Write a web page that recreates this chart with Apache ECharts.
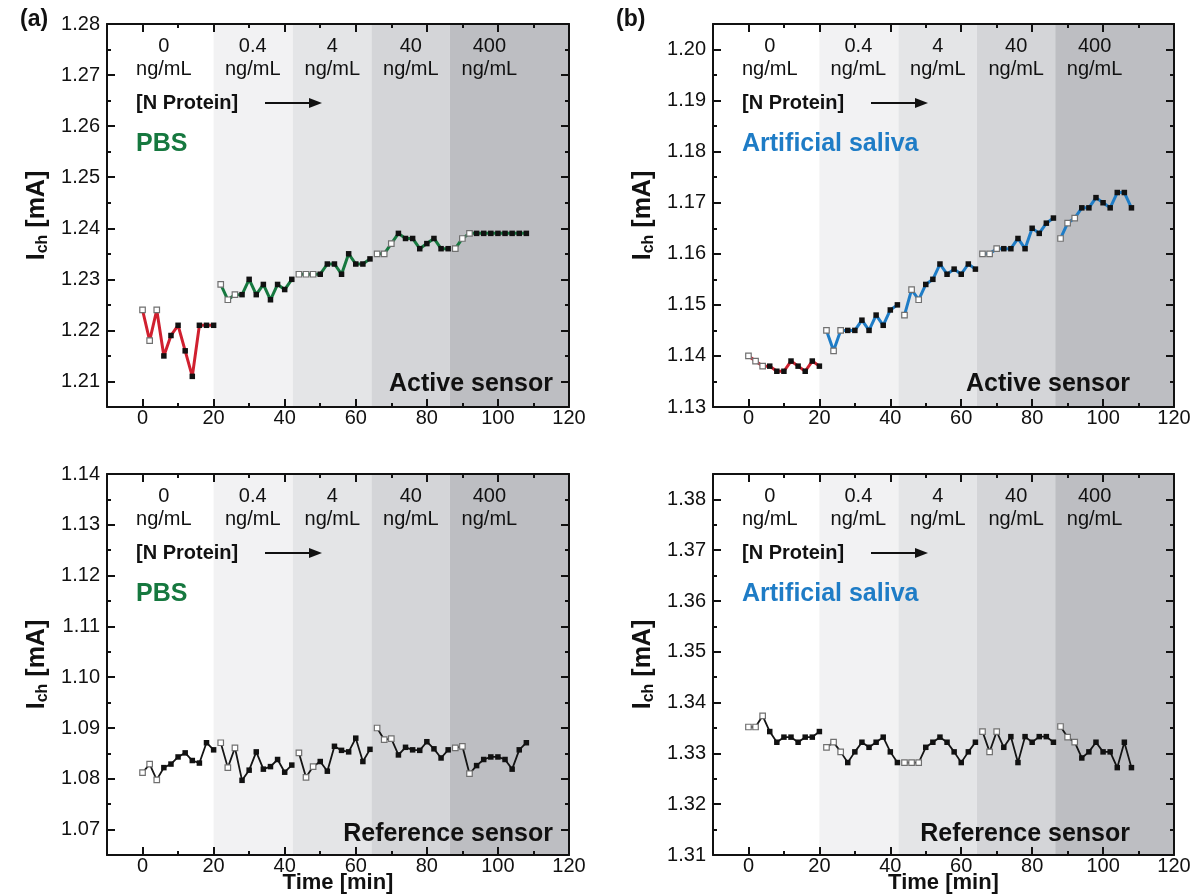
<!DOCTYPE html>
<html>
<head>
<meta charset="utf-8">
<script src="https://cdn.jsdelivr.net/npm/echarts@6/dist/echarts.min.js"></script>
<style>
  html, body { margin: 0; padding: 0; background: #fff; }
  #chart { width: 1202px; height: 894px; }
</style>
</head>
<body>
<div id="chart"></div>
<script>
// time points [min] of each concentration step
var tStep0 = [0, 2, 4, 6, 8, 10, 12, 14, 16, 18, 20];
var tStep1 = [22, 24, 26, 28, 30, 32, 34, 36, 38, 40, 42];
var tStep2 = [44, 46, 48, 50, 52, 54, 56, 58, 60, 62, 64];
var tStep3 = [66, 68, 70, 72, 74, 76, 78, 80, 82, 84, 86];
var tStep4 = [88, 90, 92, 94, 96, 98, 100, 102, 104, 106, 108];

// concentration labels and where the shaded steps start / end
var concLabels = ['0', '0.4', '4', '40', '400'];
var concLabelTime = [6, 31, 53.4, 75.5, 97.6];
var stepEdges = [20, 42.3, 64.4, 86.5, 120];

// (a) active sensor in PBS, I_ch [mA]
var actPbs0 = [1.224, 1.218, 1.224, 1.215, 1.219, 1.221, 1.216, 1.211, 1.221, 1.221, 1.221];
var actPbs1 = [1.229, 1.226, 1.227, 1.227, 1.230, 1.227, 1.229, 1.226, 1.229, 1.228, 1.230];
var actPbs2 = [1.231, 1.231, 1.231, 1.231, 1.233, 1.233, 1.231, 1.235, 1.233, 1.233, 1.234];
var actPbs3 = [1.235, 1.235, 1.237, 1.239, 1.238, 1.238, 1.236, 1.237, 1.238, 1.236, 1.236];
var actPbs4 = [1.236, 1.238, 1.239, 1.239, 1.239, 1.239, 1.239, 1.239, 1.239, 1.239, 1.239];

// (b) active sensor in artificial saliva
var actSal0 = [1.140, 1.139, 1.138, 1.138, 1.137, 1.137, 1.139, 1.138, 1.137, 1.139, 1.138];
var actSal1 = [1.145, 1.141, 1.145, 1.145, 1.145, 1.147, 1.145, 1.148, 1.146, 1.149, 1.150];
var actSal2 = [1.148, 1.153, 1.151, 1.154, 1.155, 1.158, 1.156, 1.157, 1.156, 1.158, 1.157];
var actSal3 = [1.160, 1.160, 1.161, 1.161, 1.161, 1.163, 1.161, 1.165, 1.164, 1.166, 1.167];
var actSal4 = [1.163, 1.166, 1.167, 1.169, 1.169, 1.171, 1.170, 1.169, 1.172, 1.172, 1.169];

// (a) reference sensor in PBS
var refPbs0 = [1.0812, 1.0829, 1.0798, 1.0822, 1.0829, 1.0843, 1.0851, 1.0836, 1.0831, 1.0871, 1.0857];
var refPbs1 = [1.0871, 1.0822, 1.0861, 1.0797, 1.0817, 1.0853, 1.0819, 1.0824, 1.0838, 1.0813, 1.0827];
var refPbs2 = [1.0851, 1.0803, 1.0824, 1.0834, 1.0815, 1.0864, 1.0856, 1.0853, 1.0880, 1.0834, 1.0858];
var refPbs3 = [1.0900, 1.0877, 1.0879, 1.0847, 1.0862, 1.0857, 1.0856, 1.0873, 1.0859, 1.0841, 1.0857];
var refPbs4 = [1.0861, 1.0864, 1.0810, 1.0826, 1.0838, 1.0843, 1.0843, 1.0838, 1.0819, 1.0857, 1.0871];

// (b) reference sensor in artificial saliva
var refSal0 = [1.3352, 1.3352, 1.3374, 1.3343, 1.3322, 1.3332, 1.3332, 1.3322, 1.3332, 1.3332, 1.3343];
var refSal1 = [1.3312, 1.3322, 1.3303, 1.3282, 1.3303, 1.3322, 1.3312, 1.3322, 1.3332, 1.3303, 1.3282];
var refSal2 = [1.3282, 1.3282, 1.3282, 1.3312, 1.3322, 1.3332, 1.3322, 1.3303, 1.3282, 1.3303, 1.3322];
var refSal3 = [1.3343, 1.3303, 1.3343, 1.3312, 1.3333, 1.3282, 1.3333, 1.3322, 1.3333, 1.3333, 1.3322];
var refSal4 = [1.3353, 1.3332, 1.3322, 1.3291, 1.3303, 1.3322, 1.3303, 1.3303, 1.3272, 1.3322, 1.3272];

var stepTimes = [tStep0, tStep1, tStep2, tStep3, tStep4];

var FONT = "'Liberation Sans', Arial, Helvetica, sans-serif";
var RED = '#d0202f', GREEN = '#16783f', BLUE = '#1e7cc6', BLACK = '#141414';
var bandColors = ['#f2f2f3', '#e4e5e7', '#d4d5d8', '#bdbec2'];

var panels = [
  { box: { left: 107, top: 24, width: 462, height: 383 }, yMin: 1.205, yMax: 1.28, hide: 'min',
    sets: [actPbs0, actPbs1, actPbs2, actPbs3, actPbs4], colors: [RED, GREEN, GREEN, GREEN, GREEN], lw: 3,
    medium: 'PBS', mediumColor: GREEN, sensor: 'Active sensor', sensorRight: 446, xName: '' },
  { box: { left: 713, top: 24, width: 461, height: 383 }, yMin: 1.13, yMax: 1.205, hide: 'max',
    sets: [actSal0, actSal1, actSal2, actSal3, actSal4], colors: [RED, BLUE, BLUE, BLUE, BLUE], lw: 3,
    medium: 'Artificial saliva', mediumColor: BLUE, sensor: 'Active sensor', sensorRight: 417, xName: '' },
  { box: { left: 107, top: 474, width: 462, height: 381 }, yMin: 1.065, yMax: 1.14, hide: 'min',
    sets: [refPbs0, refPbs1, refPbs2, refPbs3, refPbs4], colors: [BLACK, BLACK, BLACK, BLACK, BLACK], lw: 1.8,
    medium: 'PBS', mediumColor: GREEN, sensor: 'Reference sensor', sensorRight: 446, xName: 'Time [min]' },
  { box: { left: 713, top: 474, width: 461, height: 381 }, yMin: 1.31, yMax: 1.385, hide: 'max',
    sets: [refSal0, refSal1, refSal2, refSal3, refSal4], colors: [BLACK, BLACK, BLACK, BLACK, BLACK], lw: 1.8,
    medium: 'Artificial saliva', mediumColor: BLUE, sensor: 'Reference sensor', sensorRight: 417, xName: 'Time [min]' }
];

var grids = [], xAxes = [], yAxes = [], series = [], graphics = [];
var axisColor = '#111';

panels.forEach(function (p, gi) {
  grids.push({ left: p.box.left, top: p.box.top, width: p.box.width, height: p.box.height,
    containLabel: false, outerBoundsMode: 'none' });

  // x axes: bottom major/minor, top major/minor
  ['bottom', 'top'].forEach(function (pos) {
    xAxes.push({
      gridIndex: gi, type: 'value', position: pos, min: -10, max: 120,
      minInterval: 20, maxInterval: 20, z: 6,
      name: pos === 'bottom' ? p.xName : '',
      nameLocation: 'middle', nameGap: 17, nameMoveOverlap: false,
      nameTextStyle: { fontFamily: FONT, fontSize: 22, fontWeight: 'bold', color: '#111', lineHeight: 22 },
      axisLine: { show: true, onZero: false, lineStyle: { color: axisColor, width: 2 } },
      axisTick: { show: true, inside: true, length: 8, lineStyle: { color: axisColor, width: 2 } },
      axisLabel: { show: pos === 'bottom', showMinLabel: false, margin: 1, lineHeight: 20, fontFamily: FONT, fontSize: 20, color: '#111' },
      splitLine: { show: false }
    });
    xAxes.push({
      gridIndex: gi, type: 'value', position: pos, min: -10, max: 120, interval: 10, z: 6,
      axisLine: { show: false, onZero: false },
      axisTick: { show: true, inside: true, length: 4, lineStyle: { color: axisColor, width: 2 } },
      axisLabel: { show: false }, splitLine: { show: false }
    });
  });

  // y axes: left major/minor, right major/minor
  ['left', 'right'].forEach(function (pos) {
    yAxes.push({
      gridIndex: gi, type: 'value', position: pos, min: p.yMin, max: p.yMax,
      minInterval: 0.01, maxInterval: 0.01, z: 6,
      name: pos === 'left' ? '{b|I}{s|ch}{b| [mA]}' : '',
      nameLocation: 'middle', nameRotate: 90, nameGap: 56,
      nameTextStyle: {
        rich: {
          b: { fontFamily: FONT, fontSize: 25, fontWeight: 'bold', color: '#111' },
          s: { fontFamily: FONT, fontSize: 16, fontWeight: 'bold', color: '#111', padding: [12, 0, 0, 0] }
        }
      },
      axisLine: { show: true, onZero: false, lineStyle: { color: axisColor, width: 2 } },
      axisTick: { show: true, inside: true, length: 8, lineStyle: { color: axisColor, width: 2 } },
      axisLabel: {
        show: pos === 'left', margin: 7, fontFamily: FONT, fontSize: 20, color: '#111',
        showMinLabel: p.hide !== 'min', showMaxLabel: p.hide !== 'max',
        formatter: function (v) { return v.toFixed(2); }
      },
      splitLine: { show: false }
    });
    yAxes.push({
      gridIndex: gi, type: 'value', position: pos, min: p.yMin, max: p.yMax, interval: 0.005, z: 6,
      axisLine: { show: false, onZero: false },
      axisTick: { show: true, inside: true, length: 4, lineStyle: { color: axisColor, width: 2 } },
      axisLabel: { show: false }, splitLine: { show: false }
    });
  });

  p.sets.forEach(function (vals, si) {
    var times = stepTimes[si];
    var data = vals.map(function (v, k) {
      var item = { value: [times[k], v] };
      // the first three readings of every step are drawn hollow
      if (k < 3) item.itemStyle = { color: '#fff', borderColor: '#707070', borderWidth: 1.2 };
      return item;
    });
    var s = {
      type: 'line', xAxisIndex: gi * 4, yAxisIndex: gi * 4, data: data,
      symbol: 'rect', symbolSize: 5.5, showSymbol: true, showAllSymbol: true,
      lineStyle: { color: p.colors[si], width: p.lw },
      itemStyle: { color: '#111', borderWidth: 0 },
      emphasis: { disabled: true }, z: 3, animation: false
    };
    if (si === 0) {
      s.markArea = {
        silent: true, z: 1,
        data: bandColors.map(function (c, k) {
          return [{ xAxis: stepEdges[k], itemStyle: { color: c } }, { xAxis: stepEdges[k + 1] }];
        })
      };
    }
    series.push(s);
  });

  // annotations
  var L = p.box.left, T = p.box.top, pxPerMin = p.box.width / 130;
  concLabels.forEach(function (c, k) {
    graphics.push({
      type: 'text', z: 10,
      x: L + (concLabelTime[k] + 10) * pxPerMin, y: T + 34,
      style: { text: c + '\nng/mL', fontFamily: FONT, fontSize: 20, lineHeight: 23, fill: '#111', align: 'center', verticalAlign: 'middle' }
    });
  });
  graphics.push({
    type: 'text', z: 10, x: L + 29, y: T + 79,
    style: { text: '[N Protein]', fontFamily: FONT, fontSize: 20, fontWeight: 'bold', fill: '#111', align: 'left', verticalAlign: 'middle' }
  });
  graphics.push({
    type: 'line', z: 10,
    shape: { x1: L + 158, y1: T + 79, x2: L + 205, y2: T + 79 },
    style: { stroke: '#111', lineWidth: 2 }
  });
  graphics.push({
    type: 'polygon', z: 10,
    shape: { points: [[L + 215, T + 79], [L + 202, T + 74], [L + 202, T + 84]] },
    style: { fill: '#111' }
  });
  graphics.push({
    type: 'text', z: 10, x: L + 29, y: T + 120,
    style: { text: p.medium, fontFamily: FONT, fontSize: 25, fontWeight: 'bold', fill: p.mediumColor, align: 'left', verticalAlign: 'middle' }
  });
  graphics.push({
    type: 'text', z: 10, x: L + p.sensorRight, y: T + 360,
    style: { text: p.sensor, fontFamily: FONT, fontSize: 25, fontWeight: 'bold', fill: '#111', align: 'right', verticalAlign: 'middle' }
  });
});

graphics.push({ type: 'text', x: 20, y: 20, style: { text: '(a)', fontFamily: FONT, fontSize: 23, fontWeight: 'bold', fill: '#111', align: 'left', verticalAlign: 'middle' } });
graphics.push({ type: 'text', x: 616, y: 20, style: { text: '(b)', fontFamily: FONT, fontSize: 23, fontWeight: 'bold', fill: '#111', align: 'left', verticalAlign: 'middle' } });

var chart = echarts.init(document.getElementById('chart'), null, { renderer: 'canvas' });
chart.setOption({
  animation: false,
  backgroundColor: '#fff',
  grid: grids,
  xAxis: xAxes,
  yAxis: yAxes,
  series: series,
  graphic: graphics
});
</script>
</body>
</html>
